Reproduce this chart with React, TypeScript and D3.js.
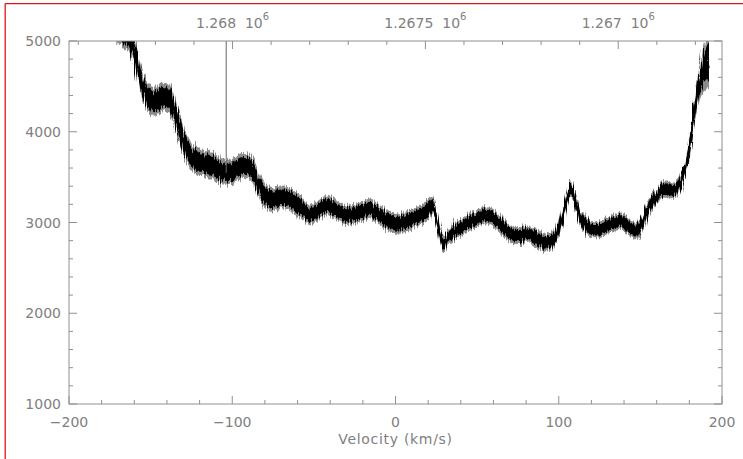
import React from "react";
import * as d3 from "d3";

// ---- data ----
const velocity = [-185,-178,-172,-167,-163,-160,-157,-154,-151,-148,-145,-142,-139,-136,-133,-130,-127,-124,-121,-117,-113,-109,-105,-101,-97,-93,-90,-87,-84,-81,-78,-74,-70,-66,-62,-58,-55,-52,-49,-46,-42,-39,-36,-33,-30,-27,-24,-20,-16,-13,-10,-6,-3,0,3,6,9,12,15,18,20,22,23.5,25,27,29,31,33,36,40,44,48,52,56,60,64,68,72,76,80,83,86,89,92,95,98,101,103,105,107,108.5,110,112,115,118,121,125,129,133,137,141,145,148,151,154,157,160,163,166,169,172,175,177,179,181,183,185,187,189,191,192];
const flux = [5450,5260,5180,5110,5030,4860,4650,4460,4370,4330,4350,4390,4370,4260,4080,3900,3780,3710,3670,3650,3630,3590,3545,3555,3590,3635,3620,3560,3430,3320,3265,3255,3280,3265,3220,3170,3120,3085,3110,3150,3190,3170,3140,3100,3083,3090,3100,3120,3155,3130,3085,3040,3005,2985,2990,3005,3020,3050,3080,3110,3160,3190,3160,3040,2880,2760,2790,2850,2900,2950,2995,3030,3060,3080,3050,2980,2915,2860,2850,2880,2860,2830,2800,2775,2790,2850,2970,3110,3240,3380,3360,3230,3120,3010,2950,2920,2920,2965,2990,3020,2980,2925,2900,3000,3130,3220,3280,3360,3370,3350,3370,3450,3560,3720,3960,4200,4420,4600,4720,4780,4700];
const noise = [150,150,150,150,150,140,140,140,140,140,140,140,140,140,140,140,140,140,140,130,130,130,130,130,130,130,130,130,130,130,115,115,115,115,115,115,100,100,100,100,100,100,100,100,100,100,100,100,100,100,100,100,100,100,100,100,100,100,100,100,100,90,90,90,90,90,90,90,90,90,90,90,90,90,90,90,90,90,90,90,90,90,90,90,90,90,90,90,90,90,90,90,85,85,85,85,85,85,85,85,85,85,85,85,85,85,85,85,85,85,85,85,90,90,90,90,150,200,250,280,250];
const spikeVelocity = [-103.7];
const spikeFlux = [5400];

const topTickValues = [1268000, 1267500, 1267000];
const topTickLabels = ["1.268", "1.2675", "1.267"];
const bottomTickValues = [-200, -100, 0, 100, 200];
const bottomTickLabels = ["\u2212200", "\u2212100", "0", "100", "200"];
const leftTickValues = [1000, 2000, 3000, 4000, 5000];
const leftTickLabels = ["1000", "2000", "3000", "4000", "5000"];

const W = 743, H = 459;
const L = 69, R = 722, T = 41, B = 404;
const AX = "#909090";
const TXT = "#808080";
const FONT = "'DejaVu Sans', Verdana, sans-serif";

export default function App() {
  const x = d3.scaleLinear().domain([-200, 200]).range([L, R]);
  const xTop = d3.scaleLinear().domain([1268424, 1266731]).range([L, R]);
  const y = d3.scaleLinear().domain([1000, 5000]).range([B, T]);

  const pts = velocity.map((v, i) => ({ v, f: flux[i], n: noise[i] }));
  const outer = d3.area<any>().x(d => x(d.v)).y0(d => y(d.f - d.n * 1.1)).y1(d => y(d.f + d.n * 1.1)).curve(d3.curveMonotoneX);
  const inner = d3.area<any>().x(d => x(d.v)).y0(d => y(d.f - d.n * 0.75)).y1(d => y(d.f + d.n * 0.75)).curve(d3.curveMonotoneX);
  const line = d3.line<any>().x(d => x(d.v)).y(d => y(d.f)).curve(d3.curveMonotoneX);
  const fluxAt = d3.scaleLinear().domain(velocity).range(flux);

  const xMinor = d3.range(-180, 200, 20).filter(v => v % 100 !== 0);
  const yMinor = d3.range(1200, 5000, 200).filter(v => v % 1000 !== 0);
  const topMinor = d3.range(1266800, 1268500, 100).filter(v => v % 500 !== 0);

  return (
    <svg width={W} height={H} style={{ position: "absolute", left: 0, top: 0, background: "#fff" }} fontFamily={FONT}>
      <rect x={0} y={0} width={W} height={H} fill="#fff" />
      <line x1={5.2} y1={3.6} x2={5.2} y2={H} stroke="#e81010" strokeWidth={1.3} />
      <line x1={5.2} y1={3.6} x2={W} y2={3.6} stroke="#e81010" strokeWidth={1.3} />
      <defs>
        <clipPath id="plot"><rect x={L} y={T} width={R - L} height={B - T} /></clipPath>
        <filter id="fuzz" x="-5%" y="-20%" width="110%" height="140%">
          <feTurbulence type="fractalNoise" baseFrequency="0.9 0.03" numOctaves={2} seed={3} result="t" />
          <feDisplacementMap in="SourceGraphic" in2="t" scale={10} xChannelSelector="A" yChannelSelector="R" />
        </filter>
      </defs>
      <g clipPath="url(#plot)">
        <path d={outer(pts) || ""} fill="#000" fillOpacity={0.45} filter="url(#fuzz)" />
        <path d={inner(pts) || ""} fill="#000" filter="url(#fuzz)" />
        <path d={line(pts) || ""} fill="none" stroke="#000" strokeWidth={1.5} />
        {spikeVelocity.map((v, i) => (
          <line key={i} x1={x(v)} x2={x(v)} y1={y(fluxAt(v))} y2={y(spikeFlux[i])} stroke="#666" strokeWidth={1} />
        ))}
      </g>
      {/* frame */}
      <g stroke={AX} strokeWidth={1} fill="none">
        <rect x={L} y={T} width={R - L} height={B - T} />
        {bottomTickValues.map(v => (
          <line key={"bx" + v} x1={x(v)} x2={x(v)} y1={B} y2={B - 8} />
        ))}
        {xMinor.map(v => (
          <line key={"mx" + v} x1={x(v)} x2={x(v)} y1={B} y2={B - 4} />
        ))}
        {topTickValues.map(v => (
          <line key={"tt" + v} x1={xTop(v)} x2={xTop(v)} y1={T} y2={T + 8} />
        ))}
        {topMinor.map(v => (
          <line key={"tm" + v} x1={xTop(v)} x2={xTop(v)} y1={T} y2={T + 4} />
        ))}
        {leftTickValues.map(v => (
          <g key={"ly" + v}>
            <line x1={L} x2={L + 8} y1={y(v)} y2={y(v)} />
            <line x1={R} x2={R - 8} y1={y(v)} y2={y(v)} />
          </g>
        ))}
        {yMinor.map(v => (
          <g key={"my" + v}>
            <line x1={L} x2={L + 4} y1={y(v)} y2={y(v)} />
            <line x1={R} x2={R - 4} y1={y(v)} y2={y(v)} />
          </g>
        ))}
      </g>
      <g fill={TXT} fontSize={14}>
        {bottomTickValues.map((v, i) => (
          <text key={"bl" + v} x={x(v)} y={427} textAnchor="middle">{bottomTickLabels[i]}</text>
        ))}
        {leftTickValues.map((v, i) => (
          <text key={"ll" + v} x={61} y={y(v) + 5} textAnchor="end">{leftTickLabels[i]}</text>
        ))}
        {topTickValues.map((v, i) => (
          <text key={"tl" + v} x={xTop(v)} y={28} textAnchor="middle">
            {topTickLabels[i] + "\u00a0\u00a010"}
            <tspan dy={-8} fontSize={10}>6</tspan>
          </text>
        ))}
        <text x={x(0)} y={444} textAnchor="middle" letterSpacing={0.7}>Velocity (km/s)</text>
      </g>
    </svg>
  );
}
